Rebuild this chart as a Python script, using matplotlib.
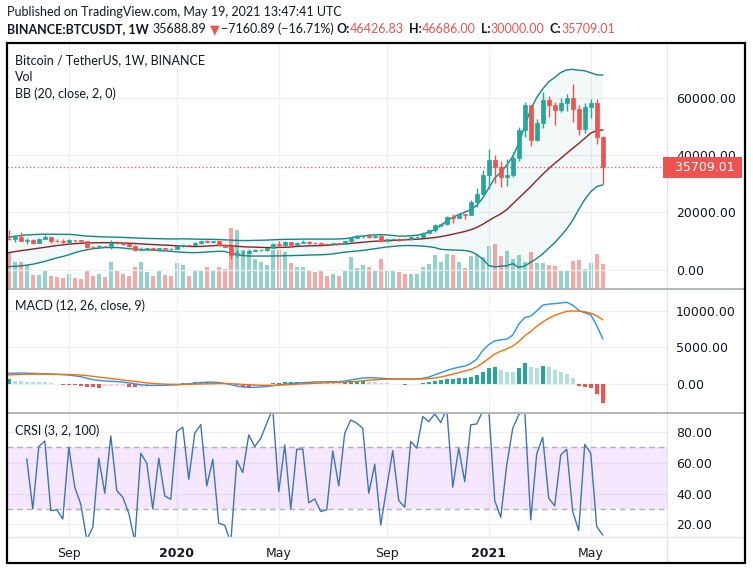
import numpy as np
import pandas as pd
import matplotlib
matplotlib.use('Agg')
import matplotlib.pyplot as plt
import matplotlib.transforms as mtransforms
from matplotlib.patches import Rectangle
from matplotlib.lines import Line2D

W, H = 753, 571

# weekly bars, Binance BTCUSDT, 24 Jun 2019 .. 17 May 2021
weeks = pd.date_range('2019-06-24', periods=100, freq='7D')

opens = [10855, 10820, 11480, 10200, 10550, 9520, 10820, 11380, 10230, 10140,
         9760, 10380, 10310, 10030, 8050, 7860, 8280, 8220, 9550, 9310,
         9040, 8500, 7050, 7400, 7510, 7080, 7510, 7385, 7360, 8180,
         8700, 8600, 9380, 10160, 9910, 9960, 8540, 8030, 5360, 5820,
         5880, 6770, 6910, 7120, 7700, 8900, 8720, 9680, 8720, 9450,
         9760, 9340, 9300, 9120, 9070, 9240, 9160, 9930, 11070, 11780,
         11920, 11640, 11680, 10250, 10680, 10930, 10780, 10670, 11380, 11500,
         13030, 13780, 15480, 15960, 18400, 18180, 19350, 19170, 23480, 26280,
         33000, 38150, 35800, 32260, 33090, 38800, 48580, 57400, 45140, 50970,
         59000, 57350, 55780, 58200, 59770, 56150, 49070, 56580, 58240, 46426.83]
highs = [13970, 12000, 13200, 11100, 10680, 11050, 12325, 11450, 10950, 10630,
         10910, 10480, 10360, 10050, 8500, 8850, 8420, 10370, 9940, 9580,
         9120, 8550, 7850, 7800, 7650, 7520, 7700, 7500, 8470, 9190,
         8850, 9600, 10160, 10500, 10250, 9970, 9190, 8180, 6900, 6980,
         7200, 7470, 7300, 7770, 9470, 10070, 9940, 9900, 9740, 10430,
         9990, 9800, 9800, 9380, 9440, 9340, 9990, 11400, 12050, 12080,
         12460, 11800, 12090, 10800, 11180, 10990, 10960, 11490, 11720, 13350,
         14100, 15970, 16500, 18950, 19480, 19920, 19420, 24300, 28400, 34780,
         41950, 40100, 37850, 38530, 40950, 49700, 58350, 57500, 52650, 61840,
         60600, 58400, 60000, 61200, 64854, 57500, 58000, 59500, 59600, 46686.00]
lows = [10300, 9650, 10100, 9070, 9110, 9400, 10800, 9470, 9780, 9320,
        9740, 9860, 9600, 7710, 7760, 7800, 7880, 7300, 8970, 8710,
        8000, 6510, 6860, 7090, 6900, 6435, 7150, 6870, 7350, 8100,
        8220, 8550, 9150, 9720, 9300, 8450, 8000, 3780, 4440, 5670,
        5860, 6750, 6480, 6760, 7680, 8100, 8200, 8650, 8630, 9250,
        9100, 8900, 8830, 8900, 9050, 9000, 9030, 9900, 10960, 11130,
        11260, 11100, 9880, 9880, 10280, 10140, 10370, 10530, 11200, 11410,
        12900, 13200, 14850, 15800, 16200, 18100, 17600, 19000, 21800, 25880,
        28100, 30400, 28850, 29240, 32300, 37990, 46400, 43000, 45000, 49300,
        53200, 50400, 54900, 55470, 51500, 47050, 47500, 53000, 43820, 30000.00]
closes = [10820, 11480, 10200, 10550, 9520, 10820, 11380, 10230, 10140, 9760,
          10380, 10310, 10030, 8050, 7860, 8280, 8220, 9550, 9310, 9040,
          8500, 7050, 7400, 7510, 7080, 7510, 7385, 7360, 8180, 8700,
          8600, 9380, 10160, 9910, 9960, 8540, 8030, 5360, 5820, 5880,
          6770, 6910, 7120, 7700, 8900, 8720, 9680, 8720, 9450, 9760,
          9340, 9300, 9120, 9070, 9240, 9160, 9930, 11070, 11780, 11920,
          11640, 11680, 10250, 10680, 10930, 10780, 10670, 11380, 11500, 13030,
          13780, 15480, 15960, 18400, 18180, 19350, 19170, 23480, 26280, 33000,
          38150, 35800, 32260, 33090, 38800, 48580, 57400, 45140, 50970, 59000,
          57350, 55780, 58200, 59770, 56150, 49070, 56580, 58240, 46427, 35709.01]
# volume, thousand BTC
volume = [360, 266, 266, 243, 143, 143, 193, 133, 123, 113,
          153, 113, 103, 193, 133, 153, 123, 266, 183, 153,
          133, 223, 266, 173, 133, 183, 143, 133, 263, 243,
          133, 193, 193, 223, 193, 223, 203, 613, 593, 393,
          377, 303, 267, 243, 387, 393, 373, 263, 223, 223,
          180, 170, 180, 130, 150, 130, 180, 320, 210, 240,
          220, 180, 300, 190, 190, 170, 150, 150, 150, 220,
          250, 340, 270, 350, 340, 273, 210, 330, 340, 320,
          430, 450, 330, 380, 300, 340, 270, 370, 260, 260,
          240, 230, 190, 190, 280, 290, 200, 260, 350, 250]

bb_upper = [11400, 11700, 12000, 12200, 12300, 12400, 12450, 12450, 12420, 12400,
            12400, 12250, 12000, 11800, 11700, 11600, 11500, 11450, 11400, 11350,
            11250, 11150, 11050, 11000, 10950, 10900, 10850, 10800, 10800, 10850,
            10800, 10750, 10700, 10700, 10650, 10600, 10500, 10400, 10300, 10250,
            10250, 10300, 10350, 10400, 10500, 10600, 10650, 10700, 10700, 10750,
            10750, 10750, 10750, 10750, 10750, 10800, 10900, 11200, 11700, 11800,
            12100, 12200, 12300, 12200, 12000, 11800, 11800, 11900, 12100, 12500,
            13200, 14000, 15500, 17000, 18300, 19300, 20100, 21000, 22500, 25000,
            28500, 32000, 34000, 36500, 39500, 44000, 50000, 56000, 60000, 63000,
            65500, 67000, 68700, 69600, 69800, 69500, 69300, 68600, 67900, 67800]
bb_basis = [6030, 6400, 6700, 7000, 7300, 7600, 7900, 8200, 8500, 8750,
            9000, 9150, 9300, 9400, 9450, 9500, 9500, 9500, 9450, 9400,
            9300, 9200, 9100, 8950, 8850, 8750, 8650, 8550, 8400, 8300,
            8200, 8150, 8200, 8300, 8450, 8550, 8550, 8400, 8250, 8100,
            8000, 7950, 7870, 7820, 7800, 7850, 7900, 7980, 8200, 8300,
            8400, 8450, 8500, 8600, 8750, 8900, 9050, 9250, 9450, 9650,
            9850, 10000, 10100, 10200, 10300, 10400, 10500, 10600, 10700, 10850,
            11050, 11300, 11600, 12000, 12450, 12900, 13400, 14000, 14800, 15900,
            17200, 18400, 19500, 21000, 23000, 25000, 27000, 29000, 31200, 33300,
            35300, 37100, 38800, 40600, 42300, 44000, 45800, 47600, 48500, 48700]
bb_lower = [1160, 1300, 1400, 1700, 2000, 2500, 3000, 3600, 4200, 4700,
            5300, 6000, 6600, 7000, 7400, 7600, 7800, 7800, 7800, 7650,
            7400, 7250, 7100, 7000, 6900, 6750, 6650, 6500, 6300, 6150,
            6050, 6050, 6100, 6250, 6400, 6500, 6450, 5800, 5300, 5000,
            4870, 4850, 4850, 4850, 4870, 4900, 4950, 5000, 5050, 5100,
            5200, 5250, 5300, 5400, 5600, 5900, 6200, 6400, 6600, 6800,
            7100, 7400, 7700, 8000, 8200, 8400, 8500, 8500, 8450, 8300,
            8100, 7800, 7200, 7050, 6950, 6900, 6800, 6400, 5400, 3800,
            1500, 1100, 1300, 1500, 2200, 900, 1400, 2700, 4000, 5600,
            7600, 9500, 11800, 14300, 17300, 21000, 24500, 27200, 29000, 29600]

macd_line = [1460, 1480, 1500, 1480, 1450, 1430, 1410, 1380, 1330, 1270,
             1230, 1120, 1000, 800, 600, 500, 420, 380, 330, 260,
             150, 20, -100, -160, -200, -200, -180, -150, -110, -50,
             20, 100, 200, 250, 260, 200, 80, -100, -280, -400,
             -460, -460, -410, -340, -240, -130, -20, 60, 120, 180,
             230, 270, 290, 300, 310, 330, 400, 550, 700, 820,
             860, 840, 800, 730, 700, 690, 670, 650, 680, 780,
             950, 1250, 1550, 1850, 2100, 2300, 2450, 2800, 3400, 4600,
             5400, 5900, 6050, 6150, 6700, 8200, 9100, 9300, 10000, 10800,
             10950, 11000, 11100, 11200, 10800, 10100, 9750, 9500, 8000, 6200]
signal_line = [1230, 1280, 1320, 1340, 1350, 1360, 1350, 1340, 1330, 1320,
               1310, 1270, 1220, 1150, 1050, 950, 850, 750, 650, 550,
               450, 350, 250, 150, 80, 20, -20, -40, -50, -50,
               -40, -20, 0, 20, 40, 60, 60, 40, 0, -50,
               -100, -150, -180, -190, -180, -160, -120, -80, -30, 20,
               60, 100, 140, 170, 200, 230, 260, 300, 370, 440,
               520, 580, 620, 650, 660, 670, 680, 680, 680, 690,
               730, 830, 960, 1140, 1350, 1560, 1780, 2000, 2350, 2900,
               3500, 4100, 4500, 4800, 5200, 5800, 6600, 7200, 7900, 8500,
               9000, 9400, 9700, 9950, 10000, 9980, 9900, 9700, 9350, 8800]
macd_hist = [690, 460, 350, 320, 280, 240, 220, 140, 50, -80,
             -100, -150, -240, -400, -460, -480, -330, -310, -280, -260,
             -370, -470, -420, -380, -240, -150, -60, -30, 20, 90,
             150, 230, 300, 320, 280, 200, 100, 30, -200, -380,
             -420, -330, -200, -80, 80, 180, 260, 300, 310, 300,
             280, 260, 240, 220, 200, 190, 250, 350, 420, 450,
             320, 230, 150, 90, 40, 10, -80, -50, 30, 90,
             230, 410, 590, 680, 690, 780, 800, 910, 1230, 1690,
             2190, 2370, 1920, 1690, 1640, 2190, 2880, 2370, 2190, 2470,
             2330, 1920, 1640, 1370, 820, -250, -400, -550, -1350, -2550]

# CRSI starts three bars later than the price data
crsi_weeks = weeks[3:]
crsi = [62.4, 30.0, 70.4, 74.1, 28.9, 29.4, 23.5,
        70.0, 44.1, 33.0, 10.0, 18.1, 62.9, 40.2, 77.3, 41.9, 37.6,
        27.2, 9.0, 66.1, 59.6, 30.0, 62.9, 38.4, 36.3, 80.2, 83.0,
        49.2, 79.1, 84.7, 44.9, 62.2, 20.7, 19.4, 8.0, 61.4, 53.6,
        78.0, 70.4, 75.8, 85.6, 95.0, 41.2, 71.5, 30.0, 68.7, 68.8,
        34.0, 36.5, 28.3, 29.4, 67.6, 44.9, 79.1, 87.7, 85.6, 82.3,
        40.2, 59.0, 19.6, 44.1, 67.8, 35.4, 31.1, 73.7, 69.4, 89.9,
        86.6, 91.6, 86.0, 95.0, 44.1, 69.4, 47.7, 84.5, 85.1, 93.5,
        95.0, 35.4, 24.6, 58.5, 82.3, 91.0, 94.0, 22.9, 65.7, 76.5,
        36.9, 32.0, 65.0, 68.7, 28.3, 16.0, 71.9, 66.1, 18.6, 13.1]

tick_dates = pd.to_datetime(['2019-09-02', '2020-01-06', '2020-05-04',
                             '2020-09-07', '2021-01-04', '2021-05-03'])
tick_labels = ['Sep', '2020', 'May', 'Sep', '2021', 'May']

UP, DOWN = '#26a69a', '#ef5350'
TXT = '#131722'
GRID = '#eef0f3'
HFONT = ['Lato', 'DejaVu Sans']

fig = plt.figure(figsize=(W / 100, H / 100), dpi=100)


def pane(top, bottom, **kw):
    return fig.add_axes([7 / W, 1 - bottom / H, 660 / W, (bottom - top) / H], **kw)


# volume lives in its own axes behind the price pane
ax_v = pane(43, 289)
ax_p = pane(43, 289, sharex=ax_v)
ax_m = pane(289, 413)
ax_c = pane(413, 537)
ax_p.patch.set_visible(False)
ax_v.axis('off')

x_left = weeks[0] - pd.Timedelta(days=2.1)
x_right = weeks[0] + pd.Timedelta(days=768)

for ax in (ax_p, ax_m, ax_c):
    ax.set_xlim(x_left, x_right)
    for s in ('top', 'left', 'bottom'):
        ax.spines[s].set_visible(False)
    ax.spines['right'].set_color('#e0e3eb')
    ax.yaxis.tick_right()
    ax.tick_params(axis='y', length=0, pad=6.5, labelsize=9, labelcolor=TXT)
    ax.tick_params(axis='x', length=0)
    ax.set_xticks(tick_dates)
    ax.grid(True, color=GRID, lw=0.9, zorder=0)
    ax.set_axisbelow(True)

ax_p.set_xticklabels([])
ax_m.set_xticklabels([])
ax_c.set_xticklabels(tick_labels)
ax_c.tick_params(axis='x', pad=7, labelsize=9, labelcolor=TXT)
for lab in ax_c.get_xticklabels():
    if lab.get_text() in ('2020', '2021'):
        lab.set_fontweight('bold')

o = np.array(opens)
c = np.array(closes)
up = c >= o
bar_cols = np.where(up, UP, DOWN)
BW = 5.0  # days

ax_v.bar(weeks, volume, width=BW, color=bar_cols, alpha=0.5, lw=0)
ax_v.set_ylim(0, 2460)

# bollinger bands
ax_p.fill_between(weeks, bb_lower, bb_upper, color='#198787', alpha=0.05, lw=0, zorder=1)
ax_p.plot(weeks, bb_upper, color='#138484', lw=1, zorder=2)
ax_p.plot(weeks, bb_lower, color='#138484', lw=1, zorder=2)
ax_p.plot(weeks, bb_basis, color='#872323', lw=1, zorder=2)

# candles
ax_p.vlines(weeks, lows, highs, colors=bar_cols, lw=1, zorder=3)
ax_p.bar(weeks, np.abs(c - o), bottom=np.minimum(o, c), width=BW, color=bar_cols,
         edgecolor=bar_cols, lw=0.5, zorder=4)

ax_p.set_ylim(-6609, 78957)
ax_p.set_yticks([0, 20000, 40000, 60000])
ax_p.yaxis.set_major_formatter(lambda v, p: f'{v:.2f}')

last = closes[-1]
ax_p.axhline(last, color=DOWN, lw=0.9, ls=(0, (1, 2)), zorder=2)
blend = mtransforms.blended_transform_factory(ax_p.transAxes, ax_p.transData)
ax_p.text(1.0, last, f'  {last:.2f} ', transform=blend, ha='left', va='center',
          fontsize=9, color='white', zorder=10, clip_on=False,
          bbox=dict(boxstyle='square,pad=0.3', fc=DOWN, ec='none'))

# MACD
h = np.array(macd_hist)
prev = np.concatenate([[h[0] - 1], h[:-1]])
hcols = np.where(h >= 0, np.where(h > prev, '#26a69a', '#b2dfdb'),
                 np.where(h < prev, '#ef5350', '#ffcdd2'))
ax_m.bar(weeks, h, width=BW, color=hcols, lw=0, zorder=2)
ax_m.plot(weeks, macd_line, color='#2196f3', lw=1, zorder=3)
ax_m.plot(weeks, signal_line, color='#ff6d00', lw=1, zorder=3)
ax_m.set_ylim(-3973, 13014)
ax_m.set_yticks([0, 5000, 10000])
ax_m.yaxis.set_major_formatter(lambda v, p: f'{v:.2f}')

# CRSI
ax_c.axhspan(30, 70, color='#9915ff', alpha=0.1, lw=0, zorder=1)
ax_c.axhline(70, color='#b4adbb', lw=1, ls=(0, (4, 3)), zorder=2)
ax_c.axhline(30, color='#b4adbb', lw=1, ls=(0, (4, 3)), zorder=2)
ax_c.plot(crsi_weeks, crsi, color='#3f74b3', lw=1, zorder=3)
ax_c.set_ylim(11.8, 92.2)
ax_c.set_yticks([20, 40, 60, 80])
ax_c.yaxis.set_major_formatter(lambda v, p: f'{v:.2f}')

# frame and separators
fig.add_artist(Rectangle((7 / W, 1 - 563 / H), 738 / W, 520 / H, transform=fig.transFigure,
                         fill=False, ec='black', lw=1.6, zorder=20))
for yy in (289, 413):
    fig.add_artist(Line2D([7 / W, 745 / W], [1 - yy / H] * 2, color='#b2b5be', lw=1.4, zorder=15))
fig.add_artist(Line2D([7 / W, 745 / W], [1 - 537 / H] * 2, color='#e0e3eb', lw=1, zorder=15))
fig.add_artist(Line2D([667 / W] * 2, [1 - 537 / H, 1 - 563 / H], color='#e0e3eb', lw=1, zorder=15))


def ftext(x, y, s, **kw):
    kw.setdefault('color', TXT)
    kw.setdefault('fontsize', 9)
    kw.setdefault('family', HFONT)
    return fig.text(x / W, 1 - y / H, s, ha='left', va='center', **kw)


ftext(7, 12, 'Published on TradingView.com, May 19, 2021 13:47:41 UTC')
ftext(15, 60, 'Bitcoin / TetherUS, 1W, BINANCE')
ftext(15, 77, 'Vol')
ftext(15, 94, 'BB (20, close, 2, 0)')
ftext(15, 306, 'MACD (12, 26, close, 9)')
ftext(15, 431, 'CRSI (3, 2, 100)')

# symbol / OHLC line
renderer = fig.canvas.get_renderer()
pieces = [('BINANCE:BTCUSDT, 1W', TXT, 'bold', 4),
          ('35688.89', TXT, 'normal', 3),
          ('\u25bc', DOWN, 'normal', 2),
          ('\u22127160.89 (\u221216.71%)', TXT, 'normal', 3),
          ('O:', TXT, 'bold', 0), ('46426.83', DOWN, 'normal', 5),
          ('H:', TXT, 'bold', 0), ('46686.00', DOWN, 'normal', 5),
          ('L:', TXT, 'bold', 0), ('30000.00', DOWN, 'normal', 5),
          ('C:', TXT, 'bold', 0), ('35709.01', DOWN, 'normal', 0)]
xpos = 7
for s, col, wt, gap in pieces:
    t = ftext(xpos, 29, s, color=col, fontweight=wt)
    xpos += t.get_window_extent(renderer=renderer).width + gap

fig.savefig('out.png', dpi=100)
